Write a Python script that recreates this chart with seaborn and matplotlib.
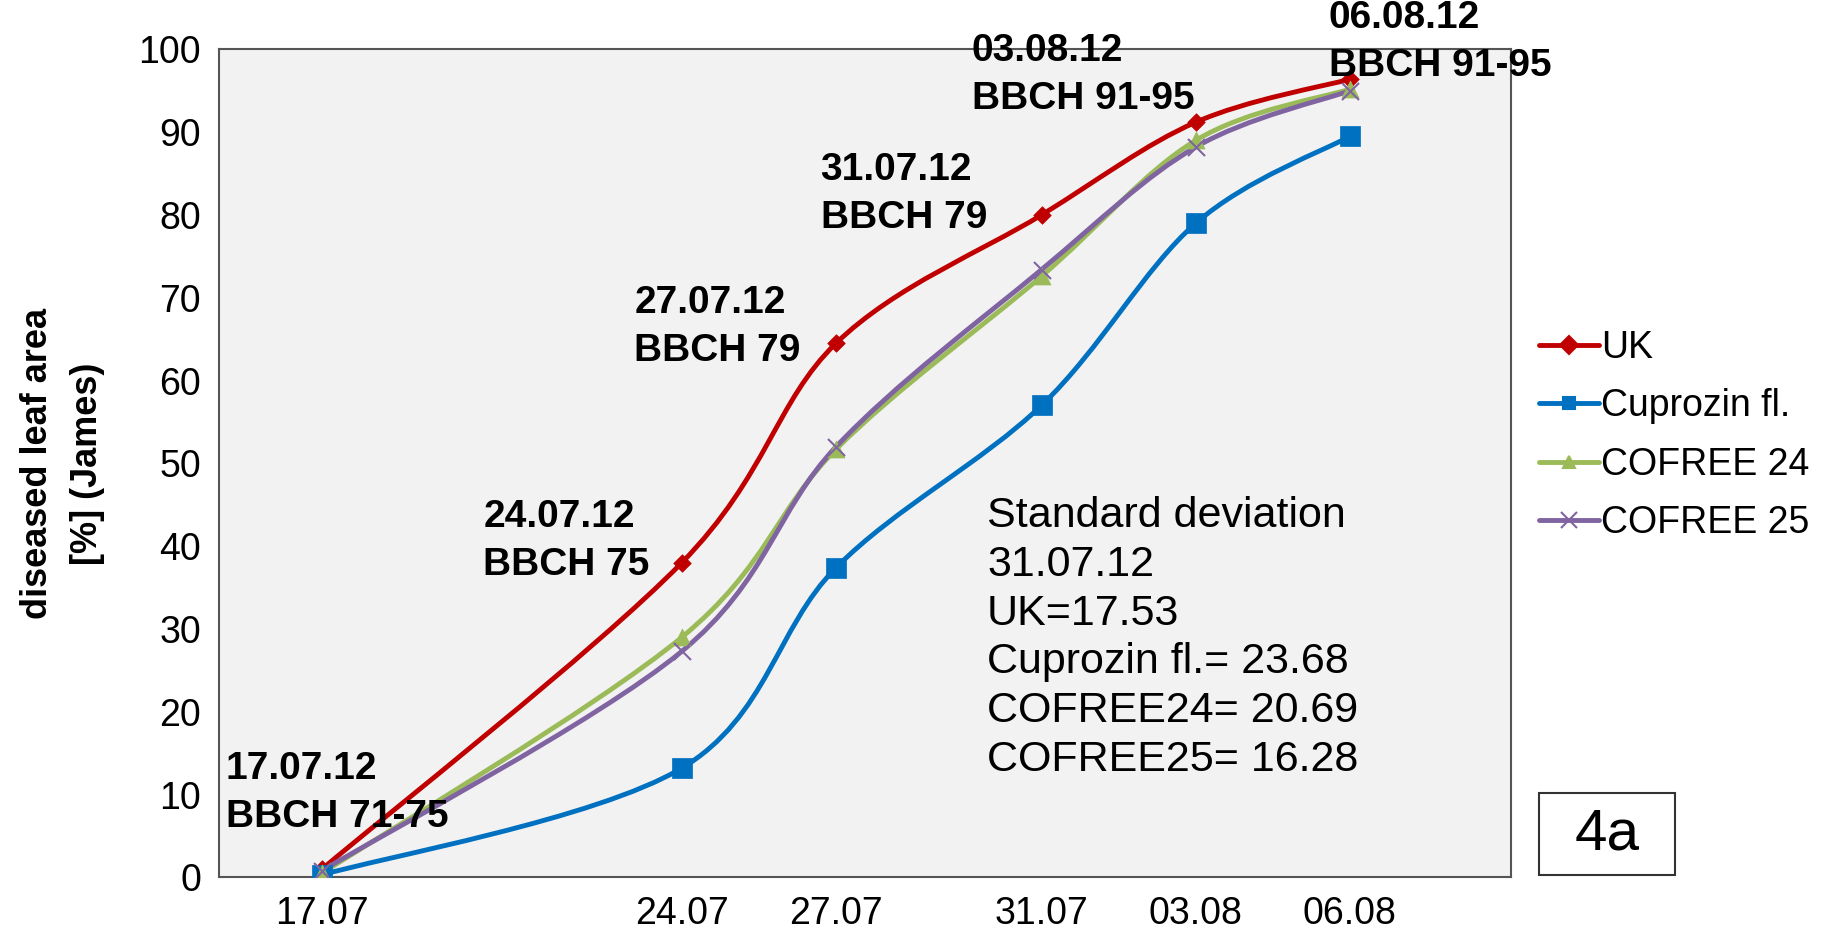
import numpy as np
import pandas as pd
import matplotlib
matplotlib.use("Agg")
import matplotlib.pyplot as plt
import seaborn as sns
from matplotlib.path import Path
from matplotlib.patches import PathPatch, Rectangle
from matplotlib.lines import Line2D

# data (days after 17.07.12)
days = [0, 7, 10, 14, 17, 20]
tick_labels = ["17.07", "24.07", "27.07", "31.07", "03.08", "06.08"]
series_names = ["UK", "Cuprozin fl.", "COFREE 24", "COFREE 25"]
uk = [1.0, 38.0, 64.5, 80.0, 91.2, 96.4]
cuprozin = [0.3, 13.2, 37.4, 57.0, 79.0, 89.5]
cofree24 = [0.5, 29.0, 51.7, 72.6, 89.0, 95.2]
cofree25 = [0.8, 27.3, 52.0, 73.4, 88.2, 95.0]
stage_labels = ["17.07.12\nBBCH 71-75", "24.07.12\nBBCH 75", "27.07.12\nBBCH 79",
                "31.07.12\nBBCH 79", "03.08.12\nBBCH 91-95", "06.08.12\nBBCH 91-95"]
sd_text = ("Standard deviation\n31.07.12\nUK=17.53\nCuprozin fl.= 23.68\n"
           "COFREE24= 20.69\nCOFREE25= 16.28")

colors = {"UK": "#c00000", "Cuprozin fl.": "#0070c0",
          "COFREE 24": "#9bbb59", "COFREE 25": "#8064a2"}
markers = {"UK": "D", "Cuprozin fl.": "s", "COFREE 24": "^", "COFREE 25": "x"}
msizes = {"UK": 80, "Cuprozin fl.": 200, "COFREE 24": 150, "COFREE 25": 150}

df = pd.DataFrame({
    "day": days * 4,
    "value": uk + cuprozin + cofree24 + cofree25,
    "series": sum([[n] * len(days) for n in series_names], []),
})

sns.set_style("white")
plt.rcParams["font.family"] = ["Liberation Sans", "DejaVu Sans"]
plt.rcParams["text.color"] = "black"
plt.rcParams["axes.labelcolor"] = "black"
plt.rcParams["xtick.color"] = "black"
plt.rcParams["ytick.color"] = "black"


def smooth_path(xs, ys):
    # excel-like smoothed line: cubic bezier through the points
    pts = np.column_stack([xs, ys]).astype(float)
    n = len(pts)
    verts = [pts[0]]
    codes = [Path.MOVETO]
    for i in range(n - 1):
        p0 = pts[i - 1] if i > 0 else pts[i]
        p1 = pts[i]
        p2 = pts[i + 1]
        p3 = pts[i + 2] if i + 2 < n else pts[i + 1]
        c1 = p1 + (p2 - p0) / 6.0
        c2 = p2 - (p3 - p1) / 6.0
        verts += [c1, c2, p2]
        codes += [Path.CURVE4] * 3
    return Path(verts, codes)


fig = plt.figure(figsize=(18.37, 9.31), dpi=100)
ax = fig.add_axes([0.1193, 0.0575, 0.7034, 0.8895])
ax.set_facecolor("#f2f2f2")

for name in series_names:
    sub = df[df["series"] == name]
    ax.add_patch(PathPatch(smooth_path(sub["day"], sub["value"]), facecolor="none",
                           edgecolor=colors[name], lw=3.5, zorder=2))

for name in series_names:
    sub = df[df["series"] == name]
    sns.scatterplot(data=sub, x="day", y="value", marker=markers[name], s=msizes[name],
                    color=colors[name], edgecolor=colors[name] if markers[name] != "x" else None,
                    linewidth=1.5 if markers[name] == "x" else 0.5, ax=ax, zorder=3, legend=False)

ax.set_xlim(-2, 23.14)
ax.set_ylim(0, 100)
ax.set_xticks(days)
ax.set_xticklabels(tick_labels)
ax.set_yticks(range(0, 101, 10))
ax.tick_params(axis="both", labelsize=27, length=0)
ax.tick_params(axis="x", pad=13)
ax.tick_params(axis="y", pad=13)
ax.set_xlabel("")
ax.set_ylabel("diseased leaf area\n[%] (James)", fontsize=26, fontweight="bold",
              labelpad=24, linespacing=1.55)
for s in ax.spines.values():
    s.set_color("#555555")
    s.set_linewidth(1.5)

stage_pos = [(-1.87, 10.2), (3.14, 40.6), (6.08, 66.5), (9.70, 82.5), (12.64, 96.9), (19.59, 100.9)]
for lab, (tx, ty) in zip(stage_labels, stage_pos):
    ax.text(tx, ty, lab, fontsize=28, fontweight="bold", ha="left", va="center",
            linespacing=1.42, zorder=4, clip_on=False)

ax.text(12.94, 28.9, sd_text, fontsize=31, ha="left", va="center", linespacing=1.28)

handles = [Line2D([0], [0], color=colors[n], lw=3.5, marker=markers[n],
                  markersize=9 if n != "COFREE 25" else 11, markeredgewidth=1.5)
           for n in series_names]
fig.legend(handles, series_names, loc="center left", bbox_to_anchor=(0.838, 0.532),
           frameon=False, fontsize=27, handlelength=1.6, handletextpad=0.05, labelspacing=0.6,
           borderaxespad=0, borderpad=0)

fig.add_artist(Rectangle((1539 / 1837, 1 - 875 / 931), 136 / 1837, 82 / 931,
                         transform=fig.transFigure, facecolor="white", edgecolor="#333333", lw=1.5))
fig.text((1539 + 68) / 1837, 1 - 834 / 931, "4a", fontsize=42, ha="center", va="center")

fig.savefig("out.png", dpi=100)
